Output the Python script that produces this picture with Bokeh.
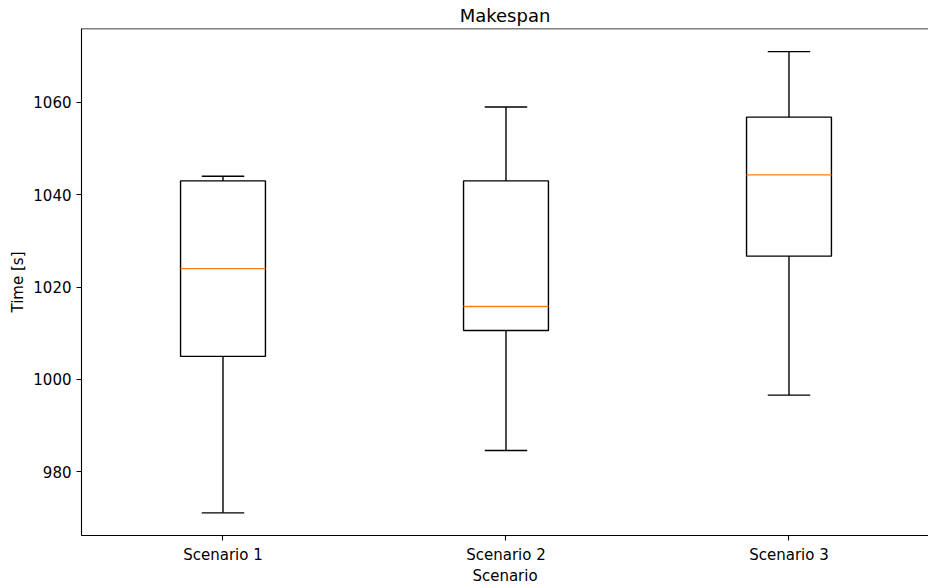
import numpy as np
from bokeh.plotting import figure
from bokeh.models import Range1d, FixedTicker, Span, ColumnDataSource
from bokeh.embed import file_html
from bokeh.resources import INLINE

# ---- data ----
scenarios = ["Scenario 1", "Scenario 2", "Scenario 3"]
positions = [1, 2, 3]
whisker_low = [971.1, 984.6, 996.6]
q1 = [1005.0, 1010.6, 1026.7]
median = [1024.0, 1015.8, 1044.3]
q3 = [1043.0, 1043.0, 1056.8]
whisker_high = [1044.0, 1059.0, 1071.0]
y_ticks = [980, 1000, 1020, 1040, 1060]

BOX_W = 0.3
CAP_W = 0.15
FONT = "DejaVu Sans"
Y_MIN, Y_MAX = 966.2, 1076.0

p = figure(width=928, height=587, output_backend="svg", toolbar_location=None,
           x_range=Range1d(0.5, 3.493), y_range=Range1d(Y_MIN, Y_MAX),
           min_border_left=81, min_border_right=0, min_border_top=28,
           min_border_bottom=50, title="Makespan")

p.title.align = "center"
p.title.text_font = FONT
p.title.text_font_size = "18px"
p.title.text_font_style = "normal"
p.title.text_color = "black"
p.title.standoff = 5
p.title.offset = 0

p.outline_line_color = None
p.xgrid.grid_line_color = None
p.ygrid.grid_line_color = None
p.background_fill_color = "white"
p.border_fill_color = "white"

pos = np.array(positions, dtype=float)
src = ColumnDataSource(dict(
    x=pos, lo=whisker_low, q1=q1, med=median, q3=q3, hi=whisker_high,
    bx0=pos - BOX_W / 2, bx1=pos + BOX_W / 2,
    cx0=pos - CAP_W / 2, cx1=pos + CAP_W / 2,
))

# whisker stems
p.segment(x0="x", y0="lo", x1="x", y1="q1", source=src, line_color="black", line_width=1.4)
p.segment(x0="x", y0="q3", x1="x", y1="hi", source=src, line_color="black", line_width=1.4)
# caps
p.segment(x0="cx0", y0="lo", x1="cx1", y1="lo", source=src, line_color="black", line_width=1.4)
p.segment(x0="cx0", y0="hi", x1="cx1", y1="hi", source=src, line_color="black", line_width=1.4)
# boxes
p.quad(left="bx0", right="bx1", bottom="q1", top="q3", source=src,
       fill_color=None, line_color="black", line_width=1.4)
# medians
p.segment(x0="bx0", y0="med", x1="bx1", y1="med", source=src, line_color="#ff7f0e", line_width=1.4)

for ax in (p.xaxis[0], p.yaxis[0]):
    ax.axis_line_color = "black"
    ax.axis_line_width = 1.1
    ax.major_tick_line_color = "black"
    ax.major_tick_line_width = 1.1
    ax.major_tick_out = 5
    ax.major_tick_in = 0
    ax.minor_tick_line_color = None
    ax.major_label_text_font = FONT
    ax.major_label_text_font_size = "15px"
    ax.major_label_text_color = "black"
    ax.axis_label_text_font = FONT
    ax.axis_label_text_font_size = "15px"
    ax.axis_label_text_font_style = "normal"
    ax.axis_label_text_color = "black"

p.xaxis[0].ticker = FixedTicker(ticks=positions)
p.xaxis[0].major_label_overrides = {k: v for k, v in zip(positions, scenarios)}
p.xaxis[0].axis_label = "Scenario"
p.xaxis[0].major_label_standoff = 5
p.xaxis[0].axis_label_standoff = 0

p.yaxis[0].ticker = FixedTicker(ticks=y_ticks)
p.yaxis[0].axis_label = "Time [s]"
p.yaxis[0].major_label_standoff = 5
p.yaxis[0].axis_label_standoff = 3

# top spine
p.add_layout(Span(location=Y_MAX, dimension="width", line_color="black", line_width=1.6))

open("out.html", "w").write(file_html(p, INLINE))
